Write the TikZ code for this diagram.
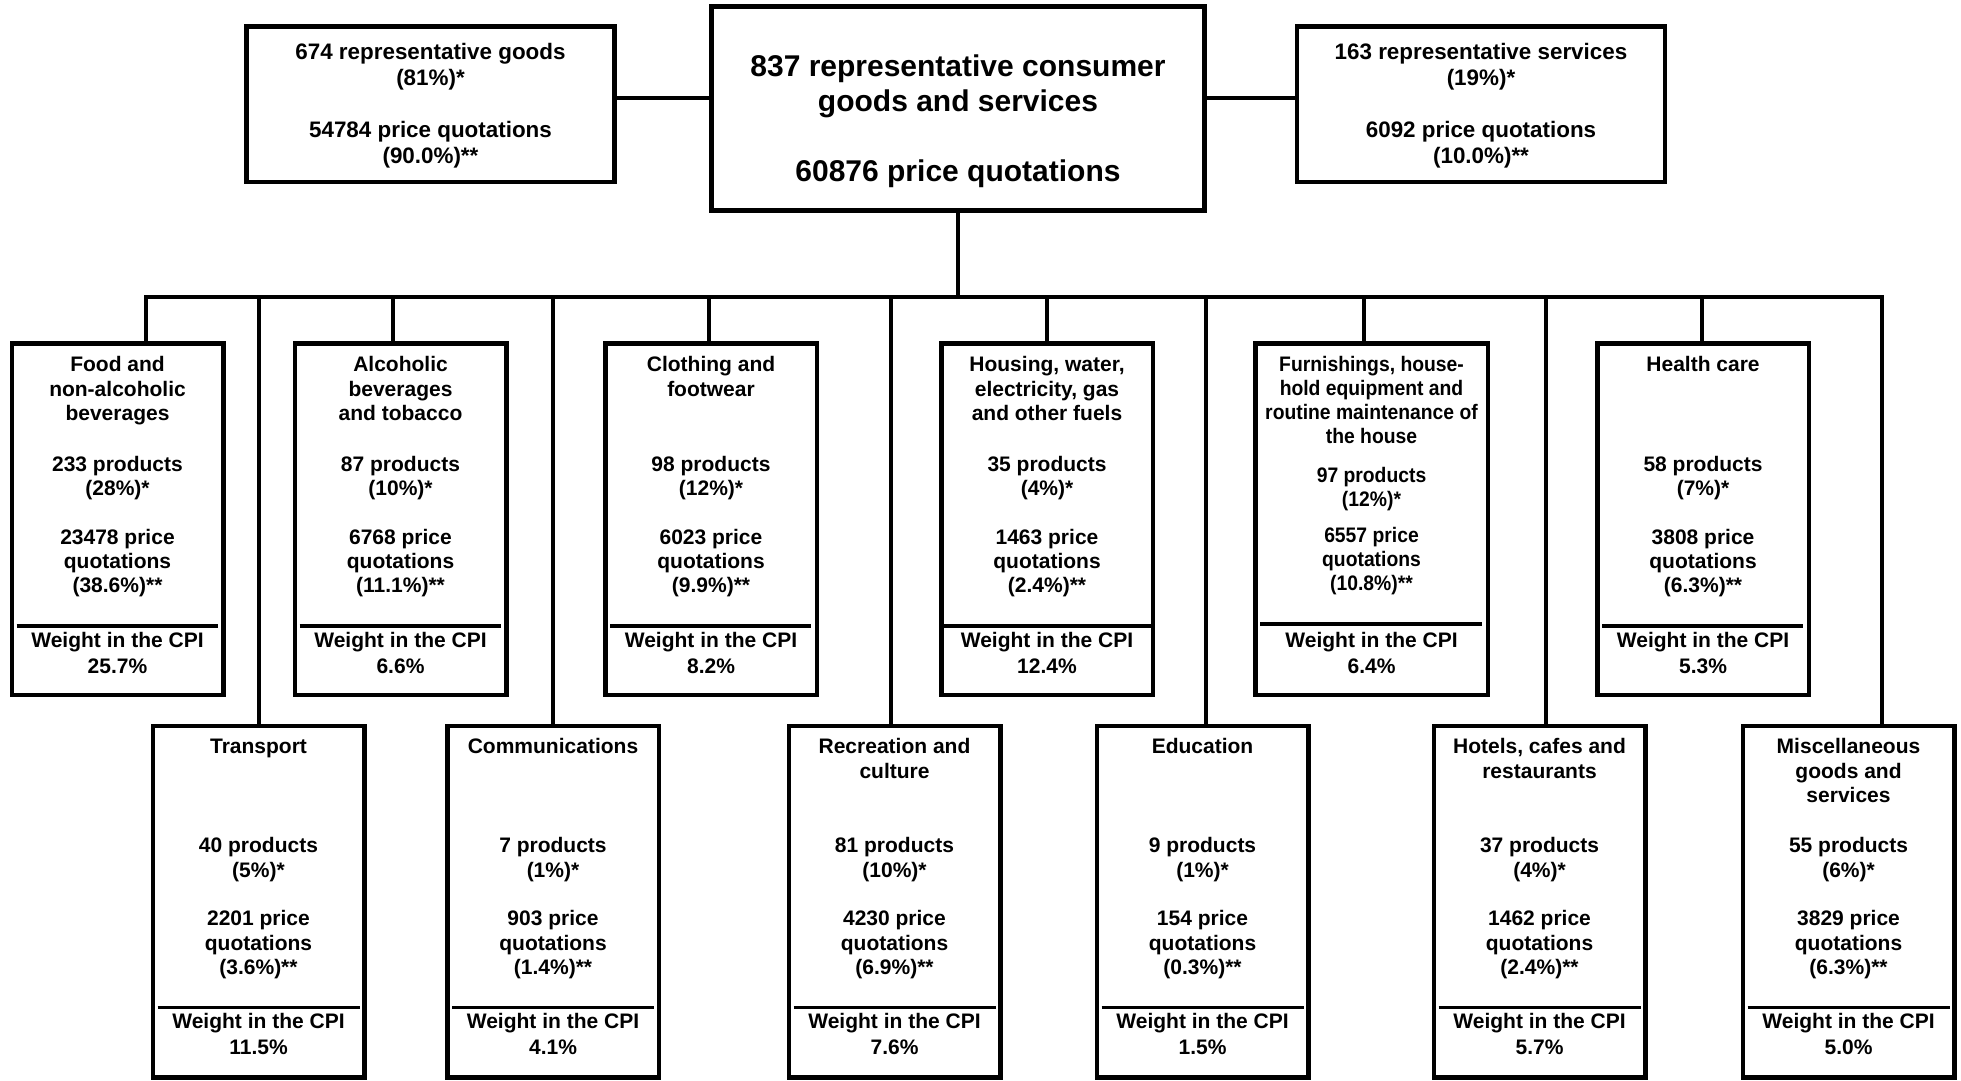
\documentclass[tikz,border=0pt]{standalone}
\usepackage{fontspec}
\setmainfont{Liberation Sans}
\newfontfamily\narrowsans{Liberation Sans}[FakeStretch=0.92]
\begin{document}
\begin{tikzpicture}[x=1pt,y=-1pt,
    catbox/.style={draw, line width=4.5pt, minimum width=211.5pt, minimum height=351.5pt, inner sep=0pt},
    cattext/.style={anchor=north, align=center, inner sep=0pt, font=\fontsize{21}{24.3}\selectfont\bfseries},
    narrowtext/.style={cattext, font={\narrowsans\fontsize{21}{24}\selectfont\bfseries}},
    wtext/.style={cattext, font=\fontsize{21}{26}\selectfont\bfseries},
    divider/.style={line width=3.3pt},
    link/.style={line width=4pt},
    sidebox/.style={draw, line width=4.5pt, minimum width=368pt, minimum height=155.5pt},
    sidetext/.style={anchor=north, align=center, inner sep=0pt, font=\fontsize{22.4}{26}\selectfont\bfseries}]

\useasboundingbox (0,0) rectangle (1961,1080);

% Total
\node[draw, line width=5pt, minimum width=493pt, minimum height=204pt] (total) at (958,108.5) {};
\node[anchor=north, align=center, inner sep=0pt, font=\fontsize{30}{35}\selectfont\bfseries] (totaltext) at (958,55)
    {837 representative consumer\\goods and services\\[35pt]60876 price quotations};

% Goods and services
\node[sidebox] (goods) at (430.5,104) {};
\node[sidetext] (goodstext) at (430.5,43) {674 representative goods\\(81\%)*\\[26pt]54784 price quotations\\(90.0\%)**};
\node[sidebox] (serv) at (1481,104) {};
\node[sidetext] (servtext) at (1481,43) {163 representative services\\(19\%)*\\[26pt]6092 price quotations\\(10.0\%)**};

\coordinate (hub) at (958,98);
\draw[link] (goods.east |- hub) -- (total.west |- hub);
\draw[link] (total.east |- hub) -- (serv.west |- hub);

% Upper row
\node[catbox] (food) at (117.5,519) {};
\node[cattext] (foodtitle) at ([yshift=-15.5pt]food.north) {Food and\\non-alcoholic\\beverages};
\node[cattext] (foodstats) at ([yshift=-115pt]food.north) {233 products\\(28\%)*\\[24.3pt]23478 price\\quotations\\(38.6\%)**};
\draw[divider] ([xshift=7pt,yshift=-285pt]food.north west) -- ([xshift=-8pt,yshift=-285pt]food.north east);
\node[wtext] (foodweight) at ([yshift=-291pt]food.north) {Weight in the CPI\\25.7\%};

\node[catbox] (alco) at (400.5,519) {};
\node[cattext] (alcotitle) at ([yshift=-15.5pt]alco.north) {Alcoholic\\beverages\\and tobacco};
\node[cattext] (alcostats) at ([yshift=-115pt]alco.north) {87 products\\(10\%)*\\[24.3pt]6768 price\\quotations\\(11.1\%)**};
\draw[divider] ([xshift=7pt,yshift=-285pt]alco.north west) -- ([xshift=-8pt,yshift=-285pt]alco.north east);
\node[wtext] (alcoweight) at ([yshift=-291pt]alco.north) {Weight in the CPI\\6.6\%};

\node[catbox] (cloth) at (711,519) {};
\node[cattext] (clothtitle) at ([yshift=-15.5pt]cloth.north) {Clothing and\\footwear};
\node[cattext] (clothstats) at ([yshift=-115pt]cloth.north) {98 products\\(12\%)*\\[24.3pt]6023 price\\quotations\\(9.9\%)**};
\draw[divider] ([xshift=7pt,yshift=-285pt]cloth.north west) -- ([xshift=-8pt,yshift=-285pt]cloth.north east);
\node[wtext] (clothweight) at ([yshift=-291pt]cloth.north) {Weight in the CPI\\8.2\%};

\node[catbox] (house) at (1047,519) {};
\node[cattext] (housetitle) at ([yshift=-15.5pt]house.north) {Housing, water,\\electricity, gas\\and other fuels};
\node[cattext] (housestats) at ([yshift=-115pt]house.north) {35 products\\(4\%)*\\[24.3pt]1463 price\\quotations\\(2.4\%)**};
\draw[divider] ([xshift=4pt,yshift=-285pt]house.north west) -- ([xshift=-4pt,yshift=-285pt]house.north east);
\node[wtext] (houseweight) at ([yshift=-291pt]house.north) {Weight in the CPI\\12.4\%};

\node[catbox, minimum width=232.5pt] (furn) at (1371.5,519) {};
\node[narrowtext] (furntitle) at ([yshift=-15.5pt]furn.north) {Furnishings, house-\\hold equipment and\\routine maintenance of\\the house};
\node[narrowtext] (furnstats) at ([yshift=-126pt]furn.north) {97 products\\(12\%)*\\[12pt]6557 price\\quotations\\(10.8\%)**};
\draw[divider] ([xshift=7pt,yshift=-283pt]furn.north west) -- ([xshift=-8pt,yshift=-283pt]furn.north east);
\node[wtext] (furnweight) at ([yshift=-291pt]furn.north) {Weight in the CPI\\6.4\%};

\node[catbox] (health) at (1703,519) {};
\node[cattext] (healthtitle) at ([yshift=-15.5pt]health.north) {Health care};
\node[cattext] (healthstats) at ([yshift=-115pt]health.north) {58 products\\(7\%)*\\[24.3pt]3808 price\\quotations\\(6.3\%)**};
\draw[divider] ([xshift=7pt,yshift=-285pt]health.north west) -- ([xshift=-8pt,yshift=-285pt]health.north east);
\node[wtext] (healthweight) at ([yshift=-291pt]health.north) {Weight in the CPI\\5.3\%};

% Lower row
\node[catbox] (trans) at (258.5,901.5) {};
\node[cattext] (transtitle) at ([yshift=-15pt]trans.north) {Transport};
\node[cattext] (transstats) at ([yshift=-114pt]trans.north) {40 products\\(5\%)*\\[24.3pt]2201 price\\quotations\\(3.6\%)**};
\draw[divider] ([xshift=7pt,yshift=-284pt]trans.north west) -- ([xshift=-7pt,yshift=-284pt]trans.north east);
\node[wtext] (transweight) at ([yshift=-290pt]trans.north) {Weight in the CPI\\11.5\%};

\node[catbox] (comm) at (553,901.5) {};
\node[cattext] (commtitle) at ([yshift=-15pt]comm.north) {Communications};
\node[cattext] (commstats) at ([yshift=-114pt]comm.north) {7 products\\(1\%)*\\[24.3pt]903 price\\quotations\\(1.4\%)**};
\draw[divider] ([xshift=7pt,yshift=-284pt]comm.north west) -- ([xshift=-7pt,yshift=-284pt]comm.north east);
\node[wtext] (commweight) at ([yshift=-290pt]comm.north) {Weight in the CPI\\4.1\%};

\node[catbox] (recr) at (894.5,901.5) {};
\node[cattext] (recrtitle) at ([yshift=-15pt]recr.north) {Recreation and\\culture};
\node[cattext] (recrstats) at ([yshift=-114pt]recr.north) {81 products\\(10\%)*\\[24.3pt]4230 price\\quotations\\(6.9\%)**};
\draw[divider] ([xshift=7pt,yshift=-284pt]recr.north west) -- ([xshift=-7pt,yshift=-284pt]recr.north east);
\node[wtext] (recrweight) at ([yshift=-290pt]recr.north) {Weight in the CPI\\7.6\%};

\node[catbox] (edu) at (1202.5,901.5) {};
\node[cattext] (edutitle) at ([yshift=-15pt]edu.north) {Education};
\node[cattext] (edustats) at ([yshift=-114pt]edu.north) {9 products\\(1\%)*\\[24.3pt]154 price\\quotations\\(0.3\%)**};
\draw[divider] ([xshift=7pt,yshift=-284pt]edu.north west) -- ([xshift=-7pt,yshift=-284pt]edu.north east);
\node[wtext] (eduweight) at ([yshift=-290pt]edu.north) {Weight in the CPI\\1.5\%};

\node[catbox] (hotel) at (1539.5,901.5) {};
\node[cattext] (hoteltitle) at ([yshift=-15pt]hotel.north) {Hotels, cafes and\\restaurants};
\node[cattext] (hotelstats) at ([yshift=-114pt]hotel.north) {37 products\\(4\%)*\\[24.3pt]1462 price\\quotations\\(2.4\%)**};
\draw[divider] ([xshift=7pt,yshift=-284pt]hotel.north west) -- ([xshift=-7pt,yshift=-284pt]hotel.north east);
\node[wtext] (hotelweight) at ([yshift=-290pt]hotel.north) {Weight in the CPI\\5.7\%};

\node[catbox] (misc) at (1848.5,901.5) {};
\node[cattext] (misctitle) at ([yshift=-15pt]misc.north) {Miscellaneous\\goods and\\services};
\node[cattext] (miscstats) at ([yshift=-114pt]misc.north) {55 products\\(6\%)*\\[24.3pt]3829 price\\quotations\\(6.3\%)**};
\draw[divider] ([xshift=7pt,yshift=-284pt]misc.north west) -- ([xshift=-7pt,yshift=-284pt]misc.north east);
\node[wtext] (miscweight) at ([yshift=-290pt]misc.north) {Weight in the CPI\\5.0\%};

% Bus
\coordinate (busL) at (146,297);
\coordinate (busR) at (1882,297);
\draw[link] (total.south) -- (total.south |- busL);
\draw[link] (busL |- food.north) -- (busL) -- (busR) -- (busR |- misc.north);
\foreach \b/\dx in {alco/-7.5,cloth/-2,house/0,furn/-7.5,health/-1,trans/0,comm/0,recr/-4,edu/3.5,hotel/6}
    \draw[link] ([xshift=\dx pt]\b.north) -- ([xshift=\dx pt]\b.north |- busL);

\end{tikzpicture}
\end{document}
